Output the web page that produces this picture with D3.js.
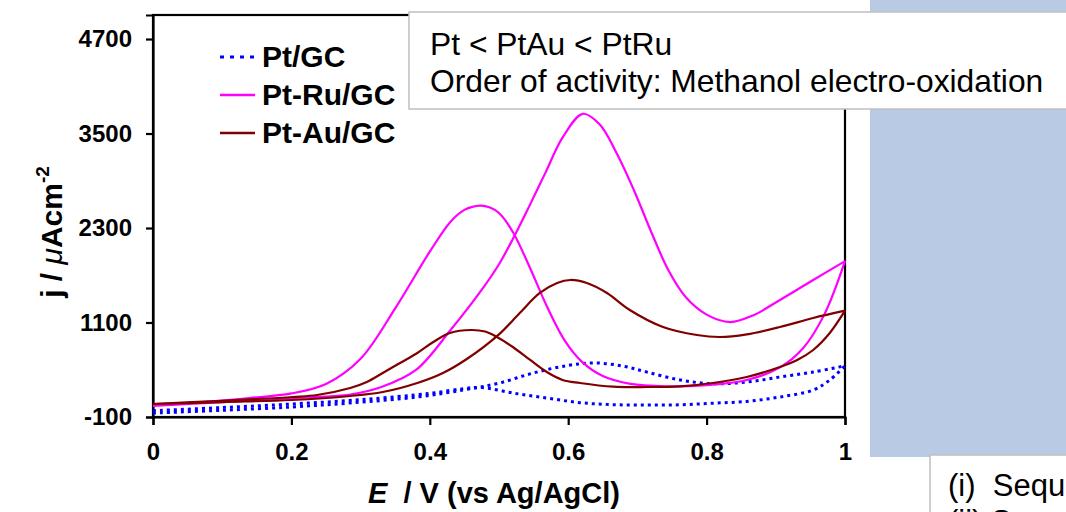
<!DOCTYPE html>
<html>
<head>
<meta charset="utf-8">
<script src="https://cdn.jsdelivr.net/npm/d3@7"></script>
<style>
  body { margin: 0; background: #fff; }
  text { font-family: "Liberation Sans", Arial, sans-serif; }
</style>
</head>
<body>
<div id="chart"></div>
<script>
// cyclic voltammograms: [E (V), j (uA/cm2)]
var ptFwd = [[0,-50],[0.1,-15],[0.2,27],[0.285,78],[0.382,154],[0.45,245],[0.5,330],[0.55,460],[0.6,555],[0.64,586],[0.68,545],[0.714,470],[0.762,370],[0.809,322],[0.858,344],[0.906,408],[0.954,471],[1,550]];
var ptRev = [[0,-20],[0.1,20],[0.2,65],[0.3,120],[0.4,200],[0.45,262],[0.475,275],[0.52,205],[0.569,141],[0.617,82],[0.664,57],[0.714,52],[0.762,55],[0.809,75],[0.858,98],[0.906,154],[0.954,243],[0.978,370],[1,550]];

var ptRuFwd = [[0,40],[0.1,88],[0.2,141],[0.285,185],[0.33,280],[0.38,497],[0.43,1005],[0.477,1540],[0.5,1840],[0.52,2160],[0.545,2600],[0.567,3000],[0.592,3450],[0.621,3750],[0.645,3620],[0.67,3250],[0.695,2780],[0.72,2250],[0.745,1760],[0.77,1420],[0.8,1200],[0.834,1106],[0.867,1190],[0.906,1386],[0.954,1640],[1,1880]];
var ptRuRev = [[0,52],[0.07,90],[0.14,141],[0.2,200],[0.25,320],[0.3,640],[0.35,1280],[0.4,2000],[0.43,2380],[0.45,2530],[0.473,2585],[0.487,2560],[0.5,2490],[0.52,2250],[0.545,1790],[0.57,1290],[0.595,870],[0.62,600],[0.65,420],[0.69,320],[0.74,290],[0.8,305],[0.858,370],[0.906,530],[0.94,780],[0.97,1200],[1,1880]];

var ptAuFwd = [[0,65],[0.1,90],[0.2,116],[0.285,167],[0.332,217],[0.382,332],[0.419,459],[0.454,640],[0.5,950],[0.53,1221],[0.559,1475],[0.584,1602],[0.603,1640],[0.627,1602],[0.656,1475],[0.689,1259],[0.737,1043],[0.786,941],[0.819,916],[0.858,950],[0.906,1043],[0.954,1157],[1,1250]];
var ptAuRev = [[0,65],[0.092,103],[0.202,154],[0.237,179],[0.285,268],[0.309,344],[0.332,459],[0.357,586],[0.382,713],[0.405,852],[0.429,967],[0.46,1005],[0.48,985],[0.497,916],[0.52,789],[0.545,624],[0.569,471],[0.592,370],[0.617,332],[0.665,285],[0.714,281],[0.762,290],[0.809,332],[0.858,408],[0.906,535],[0.931,624],[0.954,751],[0.978,967],[1,1250]];

var yTicks = [-100, 1100, 2300, 3500, 4700];
var xTicks = [0, 0.2, 0.4, 0.6, 0.8, 1];
var legendNames = ["Pt/GC", "Pt-Ru/GC", "Pt-Au/GC"];
var noteLines = ["Pt < PtAu < PtRu", "Order of activity: Methanol electro-oxidation"];
var sideLines = ["(i)\u00a0\u00a0Sequ", "(ii)\u00a0S"];

var width = 1066,
    height = 512;

var svg = d3.select("#chart").append("svg")
    .attr("width", width)
    .attr("height", height);

// slide background piece on the right
svg.append("rect")
  .attr("x", 870).attr("y", -2).attr("width", 200).attr("height", 459)
  .attr("fill", "#b9cae5");

var x = d3.scaleLinear().domain([0, 1]).range([153, 845]);
var y = d3.scaleLinear().domain([-100, 5005]).range([417, 15]);

// frame
svg.append("rect")
  .attr("x", x(0)).attr("y", y(5005))
  .attr("width", x(1) - x(0)).attr("height", y(-100) - y(5005))
  .attr("fill", "none")
  .style("stroke", "#000")
  .style("stroke-width", 2.2);

var yAxis = svg.append("g")
  .attr("transform", "translate(" + x(0) + ",0)")
  .call(d3.axisLeft(y).tickValues(yTicks).tickSize(7).tickPadding(14).tickFormat(function(d) { return String(d); }));
var xAxis = svg.append("g")
  .attr("transform", "translate(0," + y(-100) + ")")
  .call(d3.axisBottom(x).tickValues(xTicks).tickSize(8).tickPadding(18).tickFormat(function(d) { return d === 0 || d === 1 ? String(d) : d3.format(".1f")(d); }));

[yAxis, xAxis].forEach(function(g) {
  g.select(".domain").style("stroke", "#000").style("stroke-width", 2.2);
  g.selectAll(".tick line").style("stroke", "#000").style("stroke-width", 2.2);
  g.selectAll(".tick text")
    .style("font-family", "'Liberation Sans', Arial, sans-serif")
    .style("font-size", "24px")
    .style("font-weight", "bold")
    .attr("fill", "#000");
});

var line = d3.line()
  .x(function(d) { return x(d[0]); })
  .y(function(d) { return y(d[1]); })
  .curve(d3.curveCatmullRom.alpha(0.5));

var curves = [
  { data: ptFwd, color: "#0000ff", dash: "3,4", w: 3 },
  { data: ptRev, color: "#0000ff", dash: "3,4", w: 3 },
  { data: ptRuFwd, color: "#ff00ff", dash: null, w: 2.2 },
  { data: ptRuRev, color: "#ff00ff", dash: null, w: 2.2 },
  { data: ptAuFwd, color: "#800000", dash: null, w: 2.2 },
  { data: ptAuRev, color: "#800000", dash: null, w: 2.2 }
];

svg.selectAll("path.cv")
  .data(curves)
  .enter().append("path")
  .attr("class", "cv")
  .attr("d", function(d) { return line(d.data); })
  .attr("fill", "none")
  .style("stroke", function(d) { return d.color; })
  .style("stroke-width", function(d) { return d.w; })
  .style("stroke-dasharray", function(d) { return d.dash; });

// legend
var legendColors = ["#0000ff", "#ff00ff", "#800000"];
var leg = svg.selectAll("g.leg")
  .data(legendNames)
  .enter().append("g")
  .attr("class", "leg")
  .attr("transform", function(d, i) { return "translate(220," + (57 + i * 38) + ")"; });
leg.append("line")
  .attr("x1", 0).attr("x2", 35)
  .style("stroke", function(d, i) { return legendColors[i]; })
  .style("stroke-width", function(d, i) { return i === 0 ? 3 : 2.5; })
  .style("stroke-dasharray", function(d, i) { return i === 0 ? "4,6" : null; });
leg.append("text")
  .attr("x", 42).attr("y", 10)
  .style("font-size", "30px")
  .style("font-weight", "bold")
  .text(function(d) { return d; });

// axis titles
var xt = svg.append("text")
  .attr("x", 494).attr("y", 503)
  .attr("text-anchor", "middle")
  .style("font-size", "29px")
  .style("font-weight", "bold");
xt.append("tspan").style("font-style", "italic").text("E");
xt.append("tspan").text("\u00a0\u00a0/ V (vs Ag/AgCl)");

var yt = svg.append("text")
  .attr("transform", "translate(62,232) rotate(-90)")
  .attr("text-anchor", "middle")
  .style("font-size", "30px")
  .style("font-weight", "bold");
yt.append("tspan").text("j / ");
yt.append("tspan").style("font-style", "italic").style("font-weight", "normal").text("\u03bc");
yt.append("tspan").text("Acm");
yt.append("tspan").attr("dy", -13).style("font-size", "19px").text("-2");

// note box
svg.append("rect")
  .attr("x", 409).attr("y", 12).attr("width", 700).attr("height", 97)
  .attr("fill", "#fff")
  .style("stroke", "#bfbfbf")
  .style("stroke-width", 1.5);
svg.selectAll("text.note")
  .data(noteLines)
  .enter().append("text")
  .attr("class", "note")
  .attr("x", 430)
  .attr("y", function(d, i) { return 55 + i * 37; })
  .style("font-size", "31.8px")
  .text(function(d) { return d; });

// bottom-right box, running off the page
svg.append("rect")
  .attr("x", 930).attr("y", 455).attr("width", 200).attr("height", 100)
  .attr("fill", "#fff")
  .style("stroke", "#bfbfbf")
  .style("stroke-width", 1.5);
svg.selectAll("text.side")
  .data(sideLines)
  .enter().append("text")
  .attr("class", "side")
  .attr("x", 948)
  .attr("y", function(d, i) { return 496 + i * 36; })
  .style("font-size", "31px")
  .text(function(d) { return d; });
</script>
</body>
</html>
